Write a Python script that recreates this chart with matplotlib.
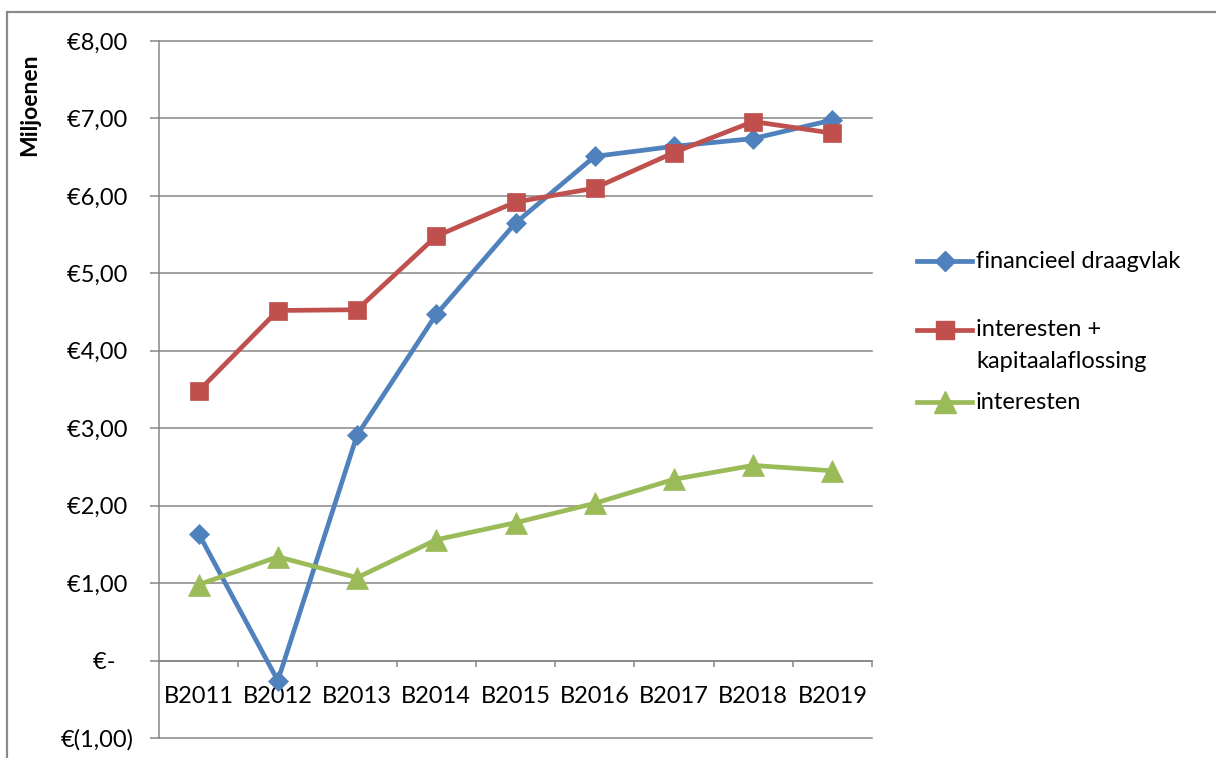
import matplotlib
matplotlib.use("Agg")
import matplotlib.pyplot as plt
from matplotlib.lines import Line2D
from matplotlib.patches import Rectangle
import numpy as np

categories = ["B2011", "B2012", "B2013", "B2014", "B2015", "B2016", "B2017", "B2018", "B2019"]
financieel_draagvlak = [1.64, -0.26, 2.91, 4.47, 5.65, 6.51, 6.64, 6.74, 6.98]
interesten_kapitaal = [3.48, 4.52, 4.53, 5.48, 5.92, 6.10, 6.56, 6.96, 6.81]
interesten = [0.98, 1.34, 1.07, 1.56, 1.78, 2.03, 2.34, 2.52, 2.45]
y_ticks = [-1, 0, 1, 2, 3, 4, 5, 6, 7, 8]
y_ticklabels = ["€(1,00)", "€-   ", "€1,00 ", "€2,00 ", "€3,00 ", "€4,00 ",
                "€5,00 ", "€6,00 ", "€7,00 ", "€8,00 "]
series_labels = ["financieel draagvlak", "interesten +\nkapitaalaflossing", "interesten"]

plt.rcParams['font.family'] = ['Lato', 'DejaVu Sans']

W, H = 1216, 758
fig = plt.figure(figsize=(W / 100, H / 100), dpi=100)
ax = fig.add_axes([159 / W, 1 - 738 / H, (872 - 159) / W, (738 - 41) / H])

grid_col = "#868686"
colors = ["#4F81BD", "#C0504D", "#9BBB59"]
markers = ["D", "s", "^"]
msizes = [10.5, 13.5, 15.5]
series = [financieel_draagvlak, interesten_kapitaal, interesten]
FS = 17

x = np.arange(len(categories))
lines = []
for vals, c, m, ms in zip(series, colors, markers, msizes):
    ln, = ax.plot(x, vals, color=c, lw=3.4, marker=m, markersize=ms,
                  markerfacecolor=c, markeredgecolor=c, markeredgewidth=0.5,
                  zorder=3, clip_on=False)
    lines.append(ln)

ax.set_xlim(-0.5, len(categories) - 0.5)
ax.set_ylim(-1, 8)
ax.set_yticks(y_ticks)
ax.set_yticklabels(y_ticklabels)
ax.yaxis.grid(True, color=grid_col, lw=1.1)
for gl in ax.get_ygridlines():
    gl.set_clip_on(False)
ax.set_axisbelow(True)

ax.spines['top'].set_visible(False)
ax.spines['right'].set_visible(False)
ax.spines['left'].set_color(grid_col)
ax.spines['left'].set_linewidth(1.1)
ax.spines['bottom'].set_position(('data', 0))
ax.spines['bottom'].set_color(grid_col)
ax.spines['bottom'].set_linewidth(1.1)

ax.set_xticks(x)
ax.set_xticklabels(categories)
ax.set_xticks(np.arange(0.5, len(categories), 1.0), minor=True)
ax.tick_params(axis='x', which='major', length=0, pad=18, labelsize=FS, labelcolor="#000000")
ax.tick_params(axis='x', which='minor', length=4.5, width=1.1, color=grid_col, direction='out')
ax.tick_params(axis='y', which='major', length=6.5, width=1.1, color=grid_col, direction='out',
               pad=12, labelsize=FS, labelcolor="#000000")

fig.text(30 / W, 1 - 105 / H, "Miljoenen", rotation=90, ha='center', va='center',
         fontsize=16.5, fontweight='bold')

# legend (drawn manually to match the layout)
leg_rows = [261, 330, 402]
for ln, lab, yy in zip(lines, series_labels, leg_rows):
    yf = 1 - yy / H
    h = Line2D([917 / W, 944.5 / W, 972 / W], [yf, yf, yf], transform=fig.transFigure,
               color=ln.get_color(), lw=ln.get_linewidth(),
               marker=ln.get_marker(), markersize=ln.get_markersize(),
               markerfacecolor=ln.get_markerfacecolor(),
               markeredgecolor=ln.get_markeredgecolor(), markevery=[1])
    fig.add_artist(h)
    if '\n' in lab:
        first, second = lab.split('\n')
        fig.text(976 / W, yf, first, ha='left', va='center', fontsize=FS)
        fig.text(976 / W, 1 - (yy + 32) / H, second, ha='left', va='center', fontsize=FS)
    else:
        fig.text(976 / W, yf, lab, ha='left', va='center', fontsize=FS)

# outer chart frame
fig.add_artist(Rectangle((7 / W, -0.1), 2.0, 1 - 12 / H + 0.1, transform=fig.transFigure,
                         fill=False, edgecolor="#8a8a8a", lw=1.6, clip_on=False))

fig.savefig("out.png", dpi=100)
